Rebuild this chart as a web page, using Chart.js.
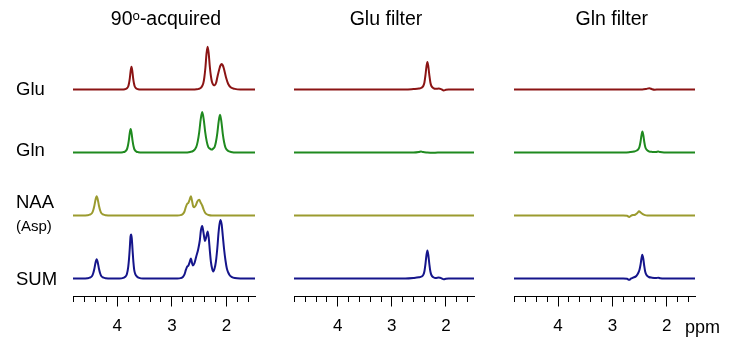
<!DOCTYPE html>
<html>
<head>
<meta charset="utf-8">
<script src="https://cdn.jsdelivr.net/npm/chart.js@4"></script>
<style>
  body { margin: 0; background: #fff; }
  #wrap { position: relative; width: 736px; height: 337px; overflow: hidden; }
  canvas { position: absolute; top: 0; }
</style>
</head>
<body>
<div id="wrap">
  <canvas id="acqChart" width="332" height="337" style="left:0px"></canvas>
  <canvas id="gluChart" width="232" height="337" style="left:270px"></canvas>
  <canvas id="glnChart" width="244" height="337" style="left:490px"></canvas>
</div>
<script>
// ppm axis
const ppmMin = 1.48, ppmMax = 4.81;
const tickValues = [4.8, 4.6, 4.4, 4.2, 4.0, 3.8, 3.6, 3.4, 3.2, 3.0, 2.8, 2.6, 2.4, 2.2, 2.0, 1.8, 1.6];
const tickLabels = ['', '', '', '', '4', '', '', '', '', '3', '', '', '', '', '2', '', ''];

// rows (top to bottom) and their vertical offsets
const rowNames = ['Glu', 'Gln', 'NAA', 'SUM'];
const rowOffsets = [207, 144, 81, 18];

// spectra: [ppm, intensity]
// 90°-acquired
const gluAcq = [[4.81,0],[3.92,0],[3.86,0.3],[3.83,0.9],[3.80,3.0],[3.785,6.2],[3.77,11.4],[3.755,18.7],[3.74,22.8],[3.725,18.7],[3.71,11.4],[3.695,6.2],[3.68,3.0],[3.65,0.9],[3.62,0.3],[3.56,0],
  [2.62,0],[2.55,0.2],[2.51,0.6],[2.467,1.9],[2.427,5.9],[2.407,12],[2.387,22],[2.367,35.9],[2.347,42.8],[2.327,36],[2.307,23],[2.287,13.5],[2.267,7.5],[2.24,4.6],[2.215,4.2],[2.19,7],[2.17,12],[2.13,21],[2.11,24.2],[2.09,25.5],[2.07,24.2],[2.05,21],[2.01,12],[1.97,5.5],[1.92,2],[1.85,0.6],[1.75,0],[1.48,0]];
const glnAcq = [[4.81,0],[3.965,0],[3.895,0.35],[3.86,0.9],[3.825,3.0],[3.8075,6.3],[3.79,11.7],[3.7725,19.2],[3.755,23.4],[3.7375,19.2],[3.72,11.7],[3.7025,6.3],[3.685,3.0],[3.65,0.9],[3.615,0.35],[3.545,0],
  [2.776,0],[2.666,0.6],[2.611,1.6],[2.556,5.3],[2.5285,10.9],[2.501,20.2],[2.4735,33.1],[2.446,40.4],[2.4185,33.2],[2.391,20.4],[2.3635,11.1],[2.336,5.6],[2.30,3.7],[2.27,2.9],[2.24,4.2],[2.22,5.4],[2.195,10.5],[2.17,19.1],[2.145,30.9],[2.12,37.7],[2.095,30.9],[2.07,18.9],[2.045,10.2],[2.02,4.9],[1.97,1.5],[1.92,0.6],[1.82,0],[1.48,0]];
const naaAcq = [[4.81,0],[4.63,0],[4.545,0.3],[4.503,0.8],[4.461,2.5],[4.44,5.2],[4.419,9.7],[4.398,15.8],[4.377,19.3],[4.356,15.8],[4.335,9.7],[4.314,5.2],[4.293,2.5],[4.251,0.8],[4.209,0.3],[4.125,0],
  [2.90,0],[2.84,0.4],[2.80,1.5],[2.77,4],[2.745,8.5],[2.72,11.7],[2.70,12.5],[2.675,16],[2.653,19.3],[2.63,14],[2.61,9],[2.59,8.3],[2.565,10],[2.535,14],[2.50,15.7],[2.475,13],[2.446,10],[2.42,6],[2.395,3],[2.37,1.5],[2.33,0.5],[2.27,0],[1.48,0]];
const sumAcq = [[4.81,0],[4.63,0],[4.545,0.3],[4.503,0.8],[4.461,2.5],[4.44,5.2],[4.419,9.7],[4.398,15.8],[4.377,19.3],[4.356,15.8],[4.335,9.7],[4.314,5.2],[4.293,2.5],[4.251,0.8],[4.209,0.3],[4.125,0],
  [3.96,0],[3.89,0.6],[3.855,1.7],[3.825,4.2],[3.80,11.4],[3.785,19.6],[3.77,31.3],[3.758,42],[3.748,44],[3.735,40.5],[3.72,28.3],[3.705,16.6],[3.69,8.7],[3.67,4.4],[3.64,2],[3.60,0.6],[3.53,0],
  [2.90,0],[2.84,0.4],[2.80,1.5],[2.77,4.1],[2.745,8.6],[2.72,12],[2.70,12.8],[2.675,16.4],[2.653,20],[2.63,15],[2.615,13],[2.59,15],[2.555,22],[2.52,29],[2.49,38],[2.47,48],[2.446,52.5],[2.42,45],[2.395,37.5],[2.37,42],[2.345,47],[2.325,40],[2.305,27],[2.285,16],[2.265,10],[2.245,7],[2.22,10],[2.195,17],[2.17,30],[2.145,47],[2.115,58.5],[2.09,54],[2.07,43],[2.045,29],[2.02,18],[1.995,10],[1.97,6],[1.94,3],[1.91,1.7],[1.85,0.4],[1.75,0],[1.48,0]];

// Glu filter
const gluGluF = [[4.81,0],[2.75,0],[2.60,0.5],[2.50,1.0],[2.45,1.8],[2.416,3.8],[2.397,7],[2.379,13.8],[2.36,22.6],[2.342,27.6],[2.324,22.6],[2.305,13.8],[2.287,7],[2.268,3.5],[2.23,1.4],[2.19,0.7],[2.13,0.9],[2.09,0.4],[2.04,-0.9],[2.00,-0.3],[1.95,0],[1.48,0]];
const glnGluF = [[4.81,0],[2.60,0],[2.50,0.5],[2.46,1.0],[2.42,0.4],[2.35,0],[2.25,-0.3],[2.15,0],[1.48,0]];
const naaGluF = [[4.81,0],[1.48,0]];
const sumGluF = [[4.81,0],[2.75,0],[2.60,0.5],[2.50,1.2],[2.45,2],[2.416,3.8],[2.397,7.2],[2.379,14],[2.36,23],[2.342,28],[2.324,23],[2.305,14],[2.287,7],[2.268,3.5],[2.23,1.2],[2.19,0.5],[2.13,0.9],[2.09,0.4],[2.04,-0.8],[2.00,-0.3],[1.95,0],[1.48,0]];

// Gln filter
const gluGlnF = [[4.81,0],[2.45,0],[2.38,0.5],[2.32,1.3],[2.27,0.3],[2.22,-0.2],[2.15,0],[1.48,0]];
const glnGlnF = [[4.81,0],[2.78,0],[2.68,0.4],[2.60,1],[2.55,2],[2.52,3.5],[2.50,6],[2.483,10.5],[2.465,17],[2.448,21],[2.43,17],[2.413,10.5],[2.395,5.5],[2.37,2.8],[2.33,1.2],[2.27,0.6],[2.20,0.5],[2.155,1],[2.12,0.4],[2.05,0],[1.48,0]];
const naaGlnF = [[4.81,0],[2.80,0],[2.73,-0.3],[2.69,-1.5],[2.66,-0.3],[2.62,0.5],[2.58,0.8],[2.54,2.5],[2.51,4.3],[2.48,3],[2.44,1.3],[2.40,0.4],[2.36,0],[1.48,0]];
const sumGlnF = [[4.81,0],[2.80,0],[2.73,-0.3],[2.69,-1.3],[2.66,-0.2],[2.62,0.8],[2.56,2.5],[2.52,6],[2.50,9],[2.483,13.5],[2.465,20],[2.45,23.7],[2.432,20],[2.415,13],[2.397,7],[2.372,3.5],[2.33,1.5],[2.27,0.8],[2.20,0.4],[2.155,0.8],[2.12,0.3],[2.05,0],[1.48,0]];

const rowColors = ['#8b1414', '#1f8a1f', '#9b9b2f', '#15158b'];
const family = "'Liberation Sans', Arial, sans-serif";

Chart.defaults.font.family = family;
Chart.defaults.color = '#000';

// titles, row names and unit are plain canvas text
const panelText = {
  id: 'panelText',
  afterDraw(chart, args, opts) {
    const { ctx, chartArea } = chart;
    const y = chart.scales.y;
    ctx.save();
    ctx.fillStyle = '#000';
    ctx.textBaseline = 'middle';
    ctx.textAlign = 'center';
    ctx.font = '19.5px ' + family;
    ctx.fillText(opts.title, (chartArea.left + chartArea.right) / 2 + opts.titleShift, 19.7);
    if (opts.rowLabels) {
      const nudge = [0, -1.5, -13, 1.5];
      ctx.textAlign = 'left';
      ctx.font = '18.5px ' + family;
      rowNames.forEach((name, i) => {
        ctx.fillText(name, 16, y.getPixelForValue(rowOffsets[i]) + nudge[i]);
      });
      ctx.font = '15px ' + family;
      ctx.fillText('(Asp)', 16, y.getPixelForValue(rowOffsets[2]) + 11);
    }
    if (opts.unit) {
      ctx.textAlign = 'left';
      ctx.textBaseline = 'alphabetic';
      ctx.font = '18px ' + family;
      ctx.fillText(opts.unit, chartArea.right - 10, chartArea.bottom + 36);
    }
    ctx.restore();
  }
};

function makePanel(id, spectra, pad, text) {
  const datasets = spectra.map((pts, i) => ({
    label: rowNames[i],
    data: pts.map(([p, v]) => ({ x: p, y: v + rowOffsets[i] })),
    borderColor: rowColors[i],
    borderWidth: 2,
    pointRadius: 0,
    fill: false,
    cubicInterpolationMode: 'monotone'
  }));
  return new Chart(document.getElementById(id), {
    type: 'line',
    data: { datasets },
    plugins: [panelText],
    options: {
      responsive: false,
      animation: false,
      layout: { padding: { left: pad[0], right: pad[1], top: 40, bottom: 0 } },
      plugins: {
        legend: { display: false },
        tooltip: { enabled: false },
        panelText: text
      },
      scales: {
        x: {
          type: 'linear',
          reverse: true,
          min: ppmMin,
          max: ppmMax,
          afterBuildTicks: scale => { scale.ticks = tickValues.map(v => ({ value: v })); },
          afterFit: scale => { scale.height = 40.5; },
          grid: {
            display: true,
            drawOnChartArea: false,
            drawTicks: true,
            tickLength: 10,
            tickColor: '#000',
            tickWidth: 1,
            tickBorderDash: ctx => tickLabels[ctx.index] ? [] : [5, 20]
          },
          border: { display: true, color: '#000', width: 1 },
          ticks: {
            autoSkip: false,
            maxRotation: 0,
            padding: 10,
            font: { size: 17 },
            color: '#000',
            callback: (value, index) => tickLabels[index]
          }
        },
        y: { display: false, min: 0, max: 256.5 }
      }
    }
  });
}

makePanel('acqChart', [gluAcq, glnAcq, naaAcq, sumAcq], [73, 77], { title: '90ᵒ-acquired', titleShift: 2, rowLabels: true });
makePanel('gluChart', [gluGluF, glnGluF, naaGluF, sumGluF], [24, 28], { title: 'Glu filter', titleShift: 2 });
makePanel('glnChart', [gluGlnF, glnGlnF, naaGlnF, sumGlnF], [24, 39], { title: 'Gln filter', titleShift: 7.3, unit: 'ppm' });
</script>
</body>
</html>
